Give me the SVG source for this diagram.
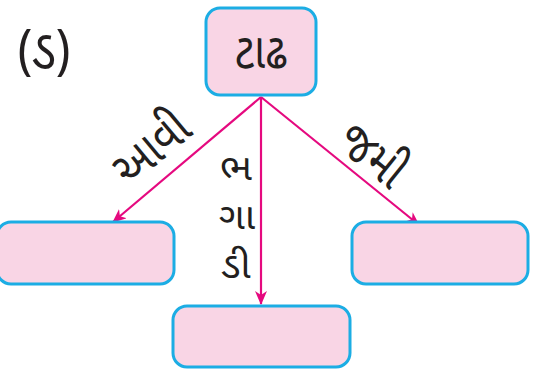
<svg xmlns="http://www.w3.org/2000/svg" width="534" height="369" viewBox="0 0 534 369">
<style>
.box{fill:#f9d5e5;stroke:#1cade4;stroke-width:3}
.t{font-family:"Noto Sans Gujarati","Lohit Gujarati","Shruti","Noto Sans",sans-serif;fill:#231f20}
.c{stroke:#e5097f;stroke-width:2.2;fill:none}
</style>
<defs>
<marker id="ah" markerWidth="14" markerHeight="12" refX="13" refY="6" orient="auto" markerUnits="userSpaceOnUse">
<path d="M0,0 L14,6 L0,12 L4,6 z" fill="#e5097f"/>
</marker>
</defs>
<text class="t" transform="translate(44,68) scale(0.9,1)" font-size="54" text-anchor="middle">(ડ)</text>
<g id="connectors">
<line class="c" x1="261" y1="97" x2="113" y2="222" marker-end="url(#ah)"/>
<line class="c" x1="261" y1="97" x2="261" y2="304" marker-end="url(#ah)"/>
<line class="c" x1="261" y1="97" x2="419" y2="225" marker-end="url(#ah)"/>
<text class="t" font-size="50" text-anchor="middle" transform="translate(162,161) rotate(-40) scale(0.85,1)">આવી</text>
<text class="t" font-size="36" text-anchor="middle" transform="translate(236,0) scale(1.1,1)"><tspan x="0" y="180">ભ</tspan><tspan x="1" y="229">ગા</tspan><tspan x="0" y="278">ડી</tspan></text>
<text class="t" font-size="50" text-anchor="middle" transform="translate(362,168) rotate(39) scale(0.85,1)">જમી</text>
</g>
<g id="top"><rect class="box" x="206" y="8" width="110" height="87" rx="14"/>
<text class="t" transform="translate(261,68) scale(0.85,1)" font-size="50" text-anchor="middle">ટાઢ</text></g>
<g id="left"><rect class="box" x="-3" y="222" width="177" height="62" rx="14"/></g>
<g id="right"><rect class="box" x="352" y="222" width="176" height="62" rx="14"/></g>
<g id="bottom"><rect class="box" x="173" y="306" width="177" height="61" rx="14"/></g>
</svg>
